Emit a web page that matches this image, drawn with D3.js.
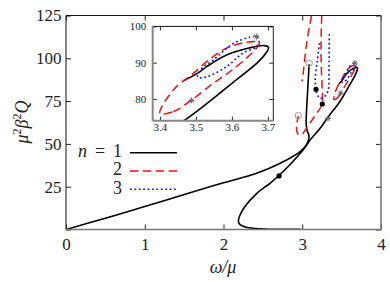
<!DOCTYPE html>
<html>
<head>
<meta charset="utf-8">
<script src="https://cdn.jsdelivr.net/npm/d3@7"></script>
<style>
body { margin: 0; background: #fff; }
svg { display: block; }
text { font-family: "Liberation Serif", "DejaVu Serif", serif; fill: #222; }
</style>
</head>
<body>
<div id="svg"></div>
<script>
// curve data, [omega/mu, mu^2 beta^2 Q]
var n1Origin = [[0, 0], [0.5, 6.6], [1, 13.4], [1.575, 21.5], [2.0, 27.3], [2.42, 32.8], [2.72, 38.7],
    [2.97, 45.4], [3.03, 48], [3.075, 51.5], [3.085, 55], [3.06, 58], [3.05, 62], [3.055, 70],
    [3.07, 82], [3.087, 96.5]];
var n1S = [[2.98, 0.05], [2.6, 0.15], [2.42, 0.5], [2.28, 1.4], [2.2, 3.3], [2.19, 5.5], [2.21, 8.5],
    [2.27, 13.3], [2.42, 21], [2.59, 27], [2.70, 31.4], [2.84, 37.7], [3.01, 46.4], [3.1, 52.3],
    [3.225, 59], [3.33, 65.8], [3.474, 74.5], [3.6, 84.3], [3.674, 90.3], [3.697, 93], [3.702, 94.2],
    [3.69, 94.7], [3.65, 94.1], [3.585, 92.1], [3.53, 88.9], [3.505, 87.1], [3.465, 85]];
var n2Left = [[3.118, 125], [3.056, 108.8], [3.01, 90.5], [2.998, 86.5]];
var n2Right = [[3.247, 125], [3.238, 105], [3.25, 85], [3.258, 76], [3.255, 73.3], [3.14, 65],
    [3.03, 57.5], [2.99, 55.2], [2.95, 55.6], [2.93, 57.5], [2.932, 62], [2.95, 66.3]];
var n2Loop = [[3.40, 76.0], [3.437, 76.5], [3.488, 79.7], [3.548, 84.3], [3.594, 87.5], [3.65, 92.1],
    [3.672, 94.5], [3.676, 95.6], [3.64, 95.6], [3.585, 94], [3.53, 90.3], [3.488, 86.6],
    [3.446, 83.4], [3.405, 77.8]];
var n3Open = [[3.218, 108.8], [3.19, 98], [3.165, 88.3], [3.18, 80.5], [3.225, 76.6], [3.29, 78],
    [3.33, 81.5], [3.34, 95], [3.343, 114.7]];
var n3Loop = [[3.505, 86.0], [3.515, 88.3], [3.548, 90.7], [3.604, 95.3], [3.65, 97], [3.668, 97.2],
    [3.676, 95.5], [3.665, 94.2], [3.63, 92.6], [3.585, 88.9], [3.53, 86.1]];
var filledDots = [[2.705, 31.3], [3.175, 81.9], [3.255, 73.3]];
var openCircles = [[3.087, 97.1], [2.95, 66.5]];
var stars = [[3.327, 64.8], [3.488, 79.6], [3.668, 97.2]];
var legendLabels = ["1", "2", "3"];
var xTicks = [0, 1, 2, 3, 4];
var yTicks = [0, 25, 50, 75, 100, 125];
var insetXTicks = [3.4, 3.5, 3.6, 3.7];
var insetYTicks = [80, 90, 100];

var svgWidth = 390, svgHeight = 282;
var styles = [
    {stroke: "#000", dash: null, width: 1.6},
    {stroke: "#f01010", dash: "8.3,4.6", width: 1.5},
    {stroke: "#1010f0", dash: "1.8,2.6", width: 1.6}
];

var svg = d3.select("div#svg").append("svg")
    .attr("width", svgWidth).attr("height", svgHeight);

var x = d3.scaleLinear().domain([0, 4]).range([66, 381]);
var y = d3.scaleLinear().domain([0, 125]).range([229.5, 15.5]);
var ix = d3.scaleLinear().domain([3.38, 3.715]).range([152.7, 273.3]);
var iy = d3.scaleLinear().domain([74, 100]).range([120.7, 26.4]);

function starPath(s) {
    var d = 0.7 * s;
    return "M" + (-s) + ",0L" + s + ",0M0," + (-s) + "L0," + s +
        "M" + (-d) + "," + (-d) + "L" + d + "," + d + "M" + (-d) + "," + d + "L" + d + "," + (-d);
}

function drawCurves(g, sx, sy, id) {
    g.append("clipPath").attr("id", id).append("rect")
        .attr("x", sx.range()[0]).attr("y", sy.range()[1])
        .attr("width", sx.range()[1] - sx.range()[0])
        .attr("height", sy.range()[0] - sy.range()[1]);
    var plot = g.append("g").attr("clip-path", "url(#" + id + ")");
    var open = d3.line().x(function(d) { return sx(d[0]); }).y(function(d) { return sy(d[1]); })
        .curve(d3.curveCatmullRom.alpha(0.5));
    var closed = d3.line().x(function(d) { return sx(d[0]); }).y(function(d) { return sy(d[1]); })
        .curve(d3.curveCatmullRomClosed.alpha(0.5));
    var sets = [
        [n1Origin, 0, open], [n1S, 0, open],
        [n2Left, 1, open], [n2Right, 1, open], [n2Loop, 1, closed],
        [n3Open, 2, open], [n3Loop, 2, closed]
    ];
    sets.forEach(function(s) {
        var st = styles[s[1]];
        plot.append("path").attr("d", s[2](s[0]))
            .attr("fill", "none")
            .attr("stroke", st.stroke)
            .attr("stroke-width", st.width)
            .attr("stroke-dasharray", st.dash);
    });
    plot.selectAll("circle.dot").data(filledDots).enter().append("circle")
        .attr("class", "dot")
        .attr("cx", function(d) { return sx(d[0]); }).attr("cy", function(d) { return sy(d[1]); })
        .attr("r", 2.6).attr("fill", "#000");
    plot.selectAll("circle.open").data(openCircles).enter().append("circle")
        .attr("class", "open")
        .attr("cx", function(d) { return sx(d[0]); }).attr("cy", function(d) { return sy(d[1]); })
        .attr("r", 3.2).attr("fill", "none").attr("stroke", "#999").attr("stroke-width", 1);
    plot.selectAll("path.star").data(stars).enter().append("path")
        .attr("class", "star")
        .attr("transform", function(d) { return "translate(" + sx(d[0]) + "," + sy(d[1]) + ")"; })
        .attr("d", starPath(3))
        .attr("stroke", "#666").attr("stroke-width", 1).attr("fill", "none");
}

function drawAxes(g, sx, sy, xt, yt, tick, fontSize, xPad, yPad, xFmt, yFmt) {
    var x0 = sx.range()[0], x1 = sx.range()[1], y0 = sy.range()[0], y1 = sy.range()[1];
    var bottom = g.append("g").attr("transform", "translate(0," + y0 + ")")
        .call(d3.axisBottom(sx).tickValues(xt).tickSize(-tick).tickPadding(xPad).tickFormat(xFmt));
    var top = g.append("g").attr("transform", "translate(0," + y1 + ")")
        .call(d3.axisTop(sx).tickValues(xt).tickSize(-tick).tickFormat(""));
    var left = g.append("g").attr("transform", "translate(" + x0 + ",0)")
        .call(d3.axisLeft(sy).tickValues(yt).tickSize(-tick).tickPadding(yPad).tickFormat(yFmt));
    var right = g.append("g").attr("transform", "translate(" + x1 + ",0)")
        .call(d3.axisRight(sy).tickValues(yt).tickSize(-tick).tickFormat(""));
    [bottom, top, left, right].forEach(function(a) {
        a.select(".domain").remove();
        a.selectAll(".tick line").attr("stroke", "#222");
        a.selectAll("text").attr("font-size", fontSize).attr("fill", "#222")
            .style("font-family", "'Liberation Serif', serif");
    });
    return [x0, x1, y0, y1];
}

//main plot
var mainG = svg.append("g");
drawCurves(mainG, x, y, "clipMain");
var m = drawAxes(mainG, x, y, xTicks, yTicks, 5, 17, 8, 4.5,
    function(d) { return d; }, function(d) { return d === 0 ? "" : d; });
mainG.append("line").attr("x1", m[0]).attr("y1", m[3]).attr("x2", m[1]).attr("y2", m[3])
    .attr("stroke", "#111").attr("stroke-width", 1);
mainG.append("line").attr("x1", m[0]).attr("y1", m[3]).attr("x2", m[0]).attr("y2", m[2])
    .attr("stroke", "#111").attr("stroke-width", 1);
mainG.append("line").attr("x1", m[0]).attr("y1", m[2]).attr("x2", m[1]).attr("y2", m[2])
    .attr("stroke", "#777").attr("stroke-width", 1.6);
mainG.append("line").attr("x1", m[1]).attr("y1", m[3]).attr("x2", m[1]).attr("y2", m[2])
    .attr("stroke", "#777").attr("stroke-width", 1.6);

//axis titles
svg.append("text").attr("x", 223).attr("y", 273).attr("text-anchor", "middle")
    .attr("font-size", 18).attr("font-style", "italic").text("ω/μ");
var yl = svg.append("text").attr("transform", "translate(28,122) rotate(-90)")
    .attr("text-anchor", "middle").attr("font-size", 18).attr("font-style", "italic");
yl.append("tspan").text("μ");
yl.append("tspan").attr("font-size", 12).attr("dy", -7).attr("font-style", "normal").text("2");
yl.append("tspan").attr("dy", 7).text("β");
yl.append("tspan").attr("font-size", 12).attr("dy", -7).attr("font-style", "normal").text("2");
yl.append("tspan").attr("dy", 7).text("Q");

//legend
var legend = svg.append("g");
legend.append("text").attr("x", 78).attr("y", 156.7).attr("font-size", 18)
    .attr("font-style", "italic").text("n");
legend.append("text").attr("x", 100).attr("y", 156.7).attr("font-size", 18)
    .attr("text-anchor", "middle").text("=");
legendLabels.forEach(function(lab, i) {
    var ly = 152.7 + i * 18.3;
    legend.append("text").attr("x", 122).attr("y", ly + 4.2).attr("font-size", 18)
        .attr("text-anchor", "end").text(lab);
    legend.append("line").attr("x1", 130).attr("x2", 177).attr("y1", ly).attr("y2", ly)
        .attr("stroke", styles[i].stroke).attr("stroke-width", styles[i].width)
        .attr("stroke-dasharray", styles[i].dash);
});

//inset
var insetG = svg.append("g");
insetG.append("rect").attr("x", ix.range()[0]).attr("y", iy.range()[1])
    .attr("width", ix.range()[1] - ix.range()[0]).attr("height", iy.range()[0] - iy.range()[1])
    .attr("fill", "#fff");
drawCurves(insetG, ix, iy, "clipInset");
var n = drawAxes(insetG, ix, iy, insetXTicks, insetYTicks, 4, 11, 2.5, 6.5,
    d3.format(".1f"), function(d) { return d; });
insetG.append("line").attr("x1", n[0]).attr("y1", n[3]).attr("x2", n[1]).attr("y2", n[3])
    .attr("stroke", "#111").attr("stroke-width", 1);
insetG.append("line").attr("x1", n[1]).attr("y1", n[3]).attr("x2", n[1]).attr("y2", n[2])
    .attr("stroke", "#222").attr("stroke-width", 1);
insetG.append("line").attr("x1", n[0]).attr("y1", n[3]).attr("x2", n[0]).attr("y2", n[2])
    .attr("stroke", "#888").attr("stroke-width", 2);
insetG.append("line").attr("x1", n[0]).attr("y1", n[2]).attr("x2", n[1]).attr("y2", n[2])
    .attr("stroke", "#888").attr("stroke-width", 2);
</script>
</body>
</html>
